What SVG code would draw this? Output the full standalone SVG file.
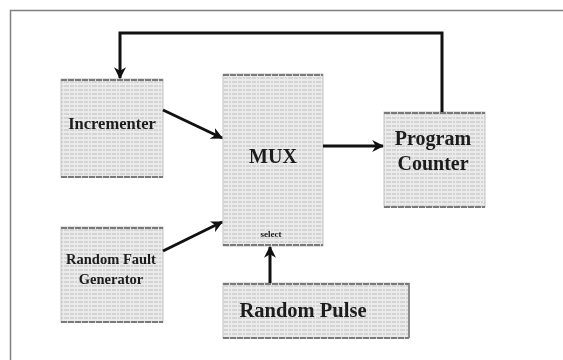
<svg xmlns="http://www.w3.org/2000/svg" width="563" height="360" viewBox="0 0 563 360">
  <defs>
    <!-- stippled grey fill used by every block -->
    <pattern id="hatch" width="14" height="4" patternUnits="userSpaceOnUse">
      <rect width="14" height="4" fill="#ebebeb"/>
      <line x1="0" y1="2" x2="14" y2="2" stroke="#bebebe" stroke-width="1" stroke-dasharray="4 1 2 1 5 1"/>
    </pattern>
    <marker id="arrow" viewBox="0 0 10 10" refX="9" refY="5" markerWidth="4" markerHeight="4" orient="auto" markerUnits="strokeWidth">
      <path d="M0,0 L10,5 L0,10 L3,5 Z" fill="#111"/>
    </marker>
    <filter id="soft" x="-5%" y="-5%" width="110%" height="110%">
      <feGaussianBlur stdDeviation="0.4"/>
    </filter>
  </defs>
  <style>
    .block { fill: url(#hatch); stroke: #c4c4c4; stroke-width: 1; }
    .edge { stroke: #7a7a7a; stroke-width: 2; stroke-dasharray: 6 1; fill: none; }
    .label { font-family: "Liberation Serif", "Times New Roman", serif; font-weight: bold; fill: #1a1a1a; text-anchor: middle; }
    .wire { stroke: #111; stroke-width: 3; fill: none; }
  </style>

  <rect width="563" height="360" fill="#ffffff"/>
  <!-- outer frame -->
  <rect x="10.5" y="10.5" width="570" height="370" fill="none" stroke="#808080" stroke-width="1.5"/>

  <g id="incrementer" filter="url(#soft)">
    <rect class="block" x="61" y="79" width="102" height="98"/>
    <line class="edge" x1="61" y1="177" x2="163" y2="177"/>
    <line class="edge" x1="61" y1="80" x2="163" y2="80" stroke-width="1"/>
    <text class="label" x="112" y="129" font-size="16.5">Incrementer</text>
  </g>

  <g id="mux" filter="url(#soft)">
    <rect class="block" x="223" y="74" width="100" height="172"/>
    <line class="edge" x1="223" y1="245" x2="323" y2="245"/>
    <line class="edge" x1="223" y1="75" x2="323" y2="75" stroke-width="1"/>
    <text class="label" x="273" y="163" font-size="20">MUX</text>
    <text class="label" x="271" y="237" font-size="9">select</text>
  </g>

  <g id="program-counter" filter="url(#soft)">
    <rect class="block" x="384" y="112" width="101" height="95"/>
    <line class="edge" x1="384" y1="207" x2="485" y2="207"/>
    <line class="edge" x1="384" y1="113" x2="485" y2="113" stroke-width="1"/>
    <text class="label" x="433" y="145" font-size="20">Program</text>
    <text class="label" x="433" y="170" font-size="20">Counter</text>
  </g>

  <g id="random-fault-generator" filter="url(#soft)">
    <rect class="block" x="61" y="227" width="102" height="95"/>
    <line class="edge" x1="61" y1="322" x2="163" y2="322"/>
    <line class="edge" x1="61" y1="228" x2="163" y2="228" stroke-width="1"/>
    <text class="label" x="111" y="264" font-size="14.5">Random Fault</text>
    <text class="label" x="111" y="284" font-size="14.5">Generator</text>
  </g>

  <g id="random-pulse" filter="url(#soft)">
    <rect class="block" x="223" y="283" width="186" height="55"/>
    <line class="edge" x1="223" y1="338" x2="409" y2="338"/>
    <line x1="409" y1="283" x2="409" y2="338" stroke="#8c8c8c" stroke-width="2"/>
    <line class="edge" x1="223" y1="284" x2="409" y2="284" stroke-width="1"/>
    <text class="label" x="303" y="317" font-size="20.5">Random Pulse</text>
  </g>

  <g id="connectors">
    <polyline class="wire" points="442,112 442,33 120,33 120,78" marker-end="url(#arrow)"/>
    <line class="wire" x1="163" y1="110" x2="222" y2="138" marker-end="url(#arrow)"/>
    <line class="wire" x1="163" y1="251" x2="222" y2="222" marker-end="url(#arrow)"/>
    <line class="wire" x1="323" y1="146" x2="383" y2="146" marker-end="url(#arrow)"/>
    <line class="wire" x1="270" y1="283" x2="270" y2="247" marker-end="url(#arrow)"/>
  </g>
</svg>
